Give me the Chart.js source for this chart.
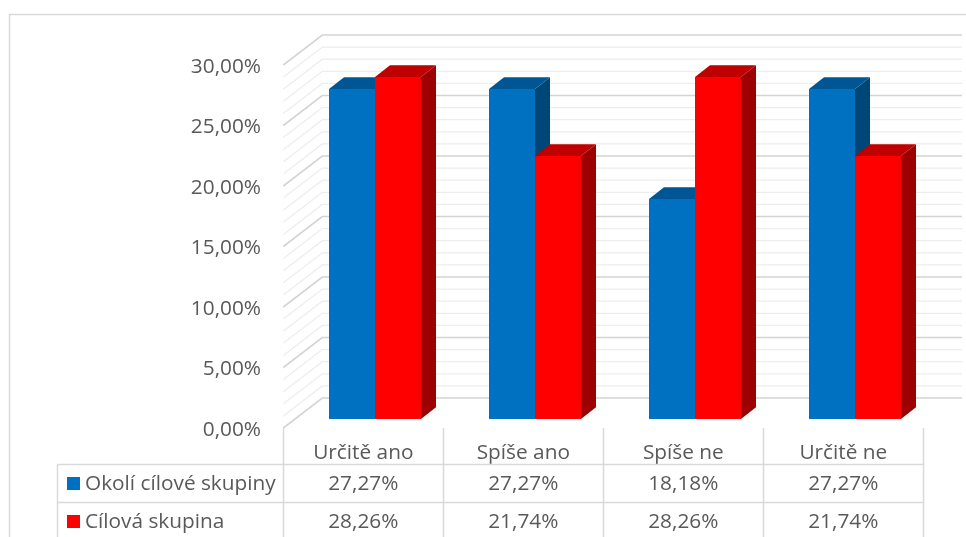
<!DOCTYPE html>
<html>
<head>
<meta charset="utf-8">
<script src="https://cdn.jsdelivr.net/npm/chart.js@4/dist/chart.umd.min.js"></script>
<style>
  html, body { margin: 0; padding: 0; background: #fff; }
  #wrap { width: 966px; height: 537px; position: relative; }
</style>
</head>
<body>
<div id="wrap"><canvas id="c" width="966" height="537"></canvas></div>
<script>
// Categories, series and axis ticks
const categories = ['Určitě ano', 'Spíše ano', 'Spíše ne', 'Určitě ne'];
const seriesNames = ['Okolí cílové skupiny', 'Cílová skupina'];
const okoliValues = [27.27, 27.27, 18.18, 27.27];
const cilovaValues = [28.26, 21.74, 28.26, 21.74];
const yTicks = [0, 5, 10, 15, 20, 25, 30];

const FONT = '"Open Sans", "DejaVu Sans", sans-serif';
const FONT_SIZE = 20.8;
const TEXT = '#595959';
const LINE = '#D9D9D9';

// 3D geometry: bar depth and offsets of the front / back planes from the bar plane
const DEPTH = { dx: 15, dy: -11.7 };
const FRONT = { dx: -11.7, dy: 9 };
const BACK = { dx: 27.3, dy: -21 };

const fmt = v => v.toFixed(2).replace('.', ',') + '%';

const faceColors = [
  { top: '#005694', side: '#004677' },
  { top: '#BE0000', side: '#9C0000' }
];

function drawBarFaces(chart, dsIndex) {
  const ctx = chart.ctx;
  const meta = chart.getDatasetMeta(dsIndex);
  const col = faceColors[dsIndex];
  ctx.save();
  meta.data.forEach(bar => {
    const p = bar.getProps(['x', 'y', 'base', 'width'], true);
    const l = p.x - p.width / 2, r = p.x + p.width / 2, t = p.y, b = p.base;
    // right side face
    ctx.fillStyle = col.side;
    ctx.beginPath();
    ctx.moveTo(r, t); ctx.lineTo(r + DEPTH.dx, t + DEPTH.dy);
    ctx.lineTo(r + DEPTH.dx, b + DEPTH.dy); ctx.lineTo(r, b);
    ctx.closePath(); ctx.fill();
    // top face
    ctx.fillStyle = col.top;
    ctx.beginPath();
    ctx.moveTo(l, t); ctx.lineTo(l + DEPTH.dx, t + DEPTH.dy);
    ctx.lineTo(r + DEPTH.dx, t + DEPTH.dy); ctx.lineTo(r, t);
    ctx.closePath(); ctx.fill();
  });
  ctx.restore();
}

const threeD = {
  id: 'threeD',
  beforeDatasetsDraw(chart) {
    const ctx = chart.ctx, y = chart.scales.y, area = chart.chartArea;
    const backL = area.left + BACK.dx, backR = 962;
    const frontL = area.left + FRONT.dx;
    ctx.save();
    for (let v = 0; v <= 30; v++) {
      const major = v % 5 === 0;
      const py = y.getPixelForValue(v);
      ctx.strokeStyle = major ? '#D4D4D4' : '#EDEDED';
      ctx.lineWidth = major ? 1.6 : 1.3;
      ctx.beginPath();
      ctx.moveTo(frontL, py + FRONT.dy);
      ctx.lineTo(backL, py + BACK.dy);
      ctx.lineTo(backR, py + BACK.dy);
      ctx.stroke();
    }
    ctx.restore();
  },
  beforeDatasetDraw(chart, args) {
    if (args.index === 1) drawBarFaces(chart, 0);
  },
  afterDatasetsDraw(chart) {
    drawBarFaces(chart, 1);
  },
  afterDraw(chart) {
    const ctx = chart.ctx, x = chart.scales.x, area = chart.chartArea;
    const n = categories.length;
    const colW = (area.right - area.left) / n;
    const left0 = area.left + FRONT.dx;
    const tableL = 57.5, row1 = 464.5, row2 = 502.5, bottom = 537;
    ctx.save();
    // outer frame
    ctx.strokeStyle = LINE; ctx.lineWidth = 1.5;
    ctx.beginPath();
    ctx.moveTo(9.5, 537); ctx.lineTo(9.5, 14.5); ctx.lineTo(966, 14.5);
    ctx.stroke();
    // data table grid
    ctx.lineWidth = 1.5;
    ctx.beginPath();
    for (let i = 0; i <= n; i++) {
      const cx = Math.round(left0 + i * colW) + 0.5;
      ctx.moveTo(cx, 428); ctx.lineTo(cx, bottom);
    }
    ctx.moveTo(tableL, row1); ctx.lineTo(tableL, bottom);
    [row1, row2].forEach(ry => { ctx.moveTo(tableL, ry); ctx.lineTo(left0 + n * colW, ry); });
    ctx.stroke();
    // table rows: legend key + values
    const rows = [
      { name: seriesNames[0], color: '#0070C0', values: okoliValues, cy: 484 },
      { name: seriesNames[1], color: '#FF0000', values: cilovaValues, cy: 522 }
    ];
    ctx.font = FONT_SIZE + 'px ' + FONT;
    ctx.fillStyle = TEXT;
    ctx.textBaseline = 'middle';
    rows.forEach(r => {
      ctx.fillStyle = r.color;
      ctx.fillRect(67, r.cy - 7, 13, 13);
      ctx.fillStyle = TEXT;
      ctx.textAlign = 'left';
      ctx.fillText(r.name, 85, r.cy);
      ctx.textAlign = 'center';
      r.values.forEach((v, i) => {
        ctx.fillText(fmt(v), x.getPixelForValue(i) + FRONT.dx, r.cy);
      });
    });
    ctx.restore();
  }
};

new Chart(document.getElementById('c'), {
  type: 'bar',
  data: {
    labels: categories,
    datasets: [
      { label: seriesNames[0], data: okoliValues, backgroundColor: '#0070C0', borderWidth: 0 },
      { label: seriesNames[1], data: cilovaValues, backgroundColor: '#FF0000', borderWidth: 0 }
    ]
  },
  options: {
    responsive: false,
    animation: false,
    devicePixelRatio: 1,
    layout: { padding: { left: 0, right: 31, top: 56, bottom: 0 } },
    datasets: { bar: { categoryPercentage: 0.575, barPercentage: 1 } },
    plugins: { legend: { display: false }, tooltip: { enabled: false } },
    scales: {
      x: {
        grid: { display: false, drawTicks: false },
        border: { display: false },
        afterFit: s => { s.height = 118; },
        ticks: {
          color: TEXT, font: { family: FONT, size: FONT_SIZE },
          labelOffset: FRONT.dx, padding: 22, maxRotation: 0, autoSkip: false
        }
      },
      y: {
        min: 0, max: 30,
        afterFit: s => { s.width = 295; },
        afterBuildTicks: s => { s.ticks = yTicks.map(v => ({ value: v })); },
        grid: { display: false, drawTicks: false },
        border: { display: false },
        ticks: {
          color: TEXT, font: { family: FONT, size: FONT_SIZE },
          labelOffset: 11, padding: 34,
          callback: v => fmt(v)
        }
      }
    }
  },
  plugins: [threeD]
});
</script>
</body>
</html>
